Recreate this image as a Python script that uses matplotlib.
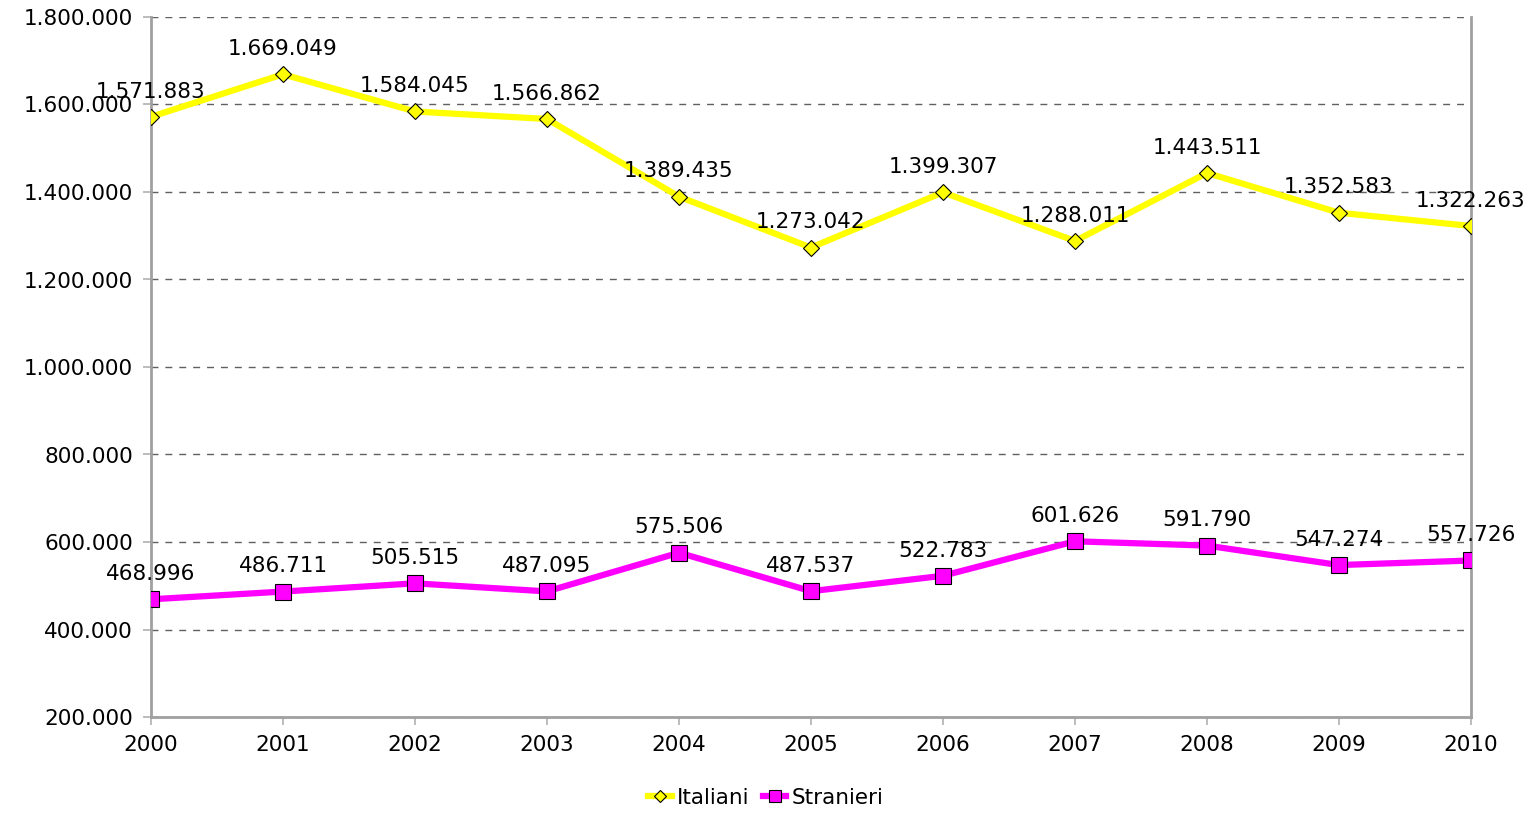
import matplotlib.pyplot as plt
from matplotlib.ticker import FuncFormatter

anni = [2000, 2001, 2002, 2003, 2004, 2005, 2006, 2007, 2008, 2009, 2010]
italiani = [1571883, 1669049, 1584045, 1566862, 1389435, 1273042,
            1399307, 1288011, 1443511, 1352583, 1322263]
stranieri = [468996, 486711, 505515, 487095, 575506, 487537,
             522783, 601626, 591790, 547274, 557726]


def fmt_it(v, pos=None):
    return f"{int(round(v)):,}".replace(",", ".")


fig = plt.figure(figsize=(15.32, 8.13), dpi=100)
ax = fig.add_axes([151 / 1532, 1 - 717 / 813, (1471 - 151) / 1532, (717 - 17) / 813])

ax.plot(anni, italiani, color='#ffff00', lw=4.5, marker='D', ms=8,
        mfc='#ffff00', mec='black', mew=0.8, label='Italiani', zorder=3)
ax.plot(anni, stranieri, color='#ff00ff', lw=4.5, marker='s', ms=11,
        mfc='#ff00ff', mec='black', mew=0.8, label='Stranieri', zorder=3)

for x, y in zip(anni, italiani):
    ax.annotate(fmt_it(y), (x, y), xytext=(0, 11), textcoords='offset points',
                ha='center', va='bottom', fontsize=15.5, zorder=4)
for x, y in zip(anni, stranieri):
    ax.annotate(fmt_it(y), (x, y), xytext=(0, 11), textcoords='offset points',
                ha='center', va='bottom', fontsize=15.5, zorder=4)

ax.set_xlim(2000, 2010)
ax.set_ylim(200000, 1800000)
ax.set_xticks(anni)
ax.set_yticks(range(200000, 1800001, 200000))
ax.yaxis.set_major_formatter(FuncFormatter(fmt_it))
ax.tick_params(labelsize=15.5, color='#b0b0b0', length=6, width=1.2, pad=7)

ax.grid(axis='y', linestyle=(0, (5, 5)), color='#606060', lw=1)
ax.set_axisbelow(True)
for s in ['left', 'bottom', 'right']:
    ax.spines[s].set_color('#a0a0a0')
    ax.spines[s].set_linewidth(2)
ax.spines['top'].set_visible(False)

h, l = ax.get_legend_handles_labels()
fig.legend(h, l, loc='center', bbox_to_anchor=(0.5, 1 - 798 / 813), ncol=2,
           frameon=False, fontsize=15.5, handlelength=1.1, handletextpad=0.25,
           columnspacing=0.6, markerscale=0.8)

fig.savefig('out.png', dpi=100)
